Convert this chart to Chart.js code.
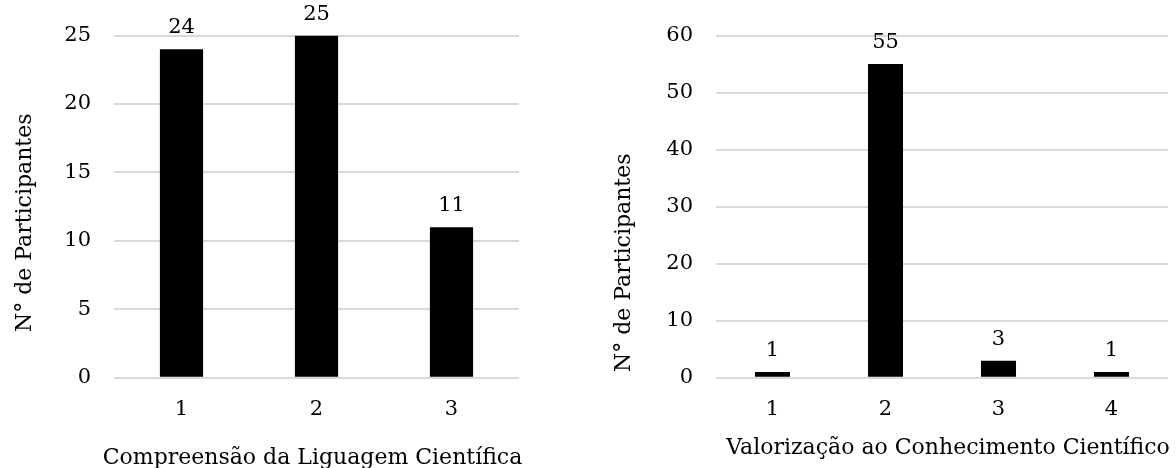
<!DOCTYPE html>
<html>
<head>
<meta charset="utf-8">
<script src="https://cdn.jsdelivr.net/npm/chart.js@4"></script>
<style>
  html, body { margin: 0; background: #fff; }
  #wrap { position: relative; width: 1176px; height: 468px; }
  .box { position: absolute; top: 0; width: 588px; height: 468px; }
  #left { left: 0; }
  #right { left: 588px; }
</style>
</head>
<body>
<div id="wrap">
  <div class="box" id="left"><canvas id="chart-compreensao"></canvas></div>
  <div class="box" id="right"><canvas id="chart-valorizacao"></canvas></div>
</div>
<script>
(function () {
  "use strict";

  const FONT = "'DejaVu Serif', 'Liberation Serif', serif";
  const TICK_SIZE = 21;
  const TITLE_SIZE = 22;

  // Compreensão da Linguagem Científica
  const compLabels = ["1", "2", "3"];
  const compValues = [24, 25, 11];
  const compTicks = [0, 5, 10, 15, 20, 25];

  // Valorização ao Conhecimento Científico
  const valLabels = ["1", "2", "3", "4"];
  const valValues = [1, 55, 3, 1];
  const valTicks = [0, 10, 20, 30, 40, 50, 60];

  const Y_TITLE = "N° de Participantes";

  // value printed above each bar
  const valueLabels = {
    id: "valueLabels",
    afterDatasetsDraw(chart) {
      const ctx = chart.ctx;
      const meta = chart.getDatasetMeta(0);
      const data = chart.data.datasets[0].data;
      ctx.save();
      ctx.font = TICK_SIZE + "px " + FONT;
      ctx.fillStyle = "#000";
      ctx.textAlign = "center";
      ctx.textBaseline = "alphabetic";
      meta.data.forEach((bar, i) => {
        ctx.fillText(String(data[i]), bar.x, bar.y - 16);
      });
      ctx.restore();
    },
  };

  // axis titles, placed relative to the plot area
  const axisTitles = {
    id: "axisTitles",
    afterDraw(chart, args, opts) {
      const ctx = chart.ctx;
      const a = chart.chartArea;
      ctx.save();
      ctx.font = TITLE_SIZE + "px " + FONT;
      ctx.fillStyle = "#000";
      ctx.textAlign = "center";
      ctx.textBaseline = "middle";
      ctx.fillText(opts.xText, (a.left + a.right) / 2 + opts.xShift, a.bottom + opts.xDrop);
      ctx.translate(opts.yX, a.bottom - opts.yRise);
      ctx.rotate(-Math.PI / 2);
      ctx.fillText(opts.yText, 0, 0);
      ctx.restore();
    },
  };

  function barChart(canvasId, labels, values, ticks, cfg) {
    const el = document.getElementById(canvasId);
    if (!el || typeof Chart === "undefined") return;
    new Chart(el, {
      type: "bar",
      data: {
        labels: labels,
        datasets: [{
          data: values,
          backgroundColor: "#000000",
          borderWidth: 0,
          categoryPercentage: 1,
          barPercentage: cfg.barPct,
        }],
      },
      options: {
        responsive: true,
        maintainAspectRatio: false,
        animation: false,
        layout: { padding: cfg.padding },
        plugins: {
          legend: { display: false },
          tooltip: { enabled: false },
          axisTitles: cfg.titles,
        },
        scales: {
          x: {
            grid: { display: false, drawTicks: false },
            border: { display: false },
            ticks: { color: "#000", padding: 19, font: { family: FONT, size: TICK_SIZE } },
          },
          y: {
            min: ticks[0],
            max: ticks[ticks.length - 1],
            ticks: {
              stepSize: ticks[1] - ticks[0],
              color: "#000",
              padding: 23,
              font: { family: FONT, size: TICK_SIZE },
            },
            grid: { color: "#d9d9d9", lineWidth: 2, drawTicks: false },
            border: { display: false },
            afterFit(scale) { scale.width = cfg.yWidth; },
          },
        },
      },
      plugins: [valueLabels, axisTitles],
    });
  }

  barChart("chart-compreensao", compLabels, compValues, compTicks, {
    barPct: 0.32,
    yWidth: 114,
    padding: { left: 0, right: 69, top: 35, bottom: 27 },
    titles: { xText: "Compreensão da Liguagem Científica", xShift: -4, xDrop: 80, yText: Y_TITLE, yX: 25, yRise: 155 },
  });

  barChart("chart-valorizacao", valLabels, valValues, valTicks, {
    barPct: 0.31,
    yWidth: 128,
    padding: { left: 0, right: 8, top: 34, bottom: 27 },
    titles: { xText: "Valorização ao Conhecimento Científico", xShift: 6, xDrop: 70, yText: Y_TITLE, yX: 36, yRise: 115 },
  });
})();
</script>
</body>
</html>
